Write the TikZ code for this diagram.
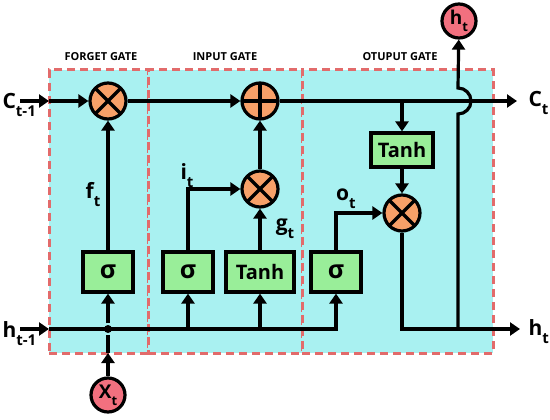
\documentclass[tikz,border=0pt]{standalone}
\usepackage{fontspec}
\setmainfont{Open Sans}
\usetikzlibrary{arrows.meta, positioning, calc}
\definecolor{cellcyan}{HTML}{A9F1F1}
\definecolor{gatered}{HTML}{E26B6B}
\definecolor{oporange}{HTML}{F7A068}
\definecolor{actgreen}{HTML}{99EE99}
\definecolor{iopink}{HTML}{F2707F}
\newcommand{\subs}[3]{#1\raisebox{-0.38em}{\fontsize{#3}{#3}\selectfont #2}}

\begin{document}
\begin{tikzpicture}[x=1pt, y=-1pt, line width=3.2pt, font=\bfseries,
  >={Triangle[length=10pt, width=13pt]},
  gate/.style={draw=gatered, fill=cellcyan, dash pattern=on 8pt off 5pt, line width=3pt},
  gatetitle/.style={font=\fontsize{11}{11}\selectfont\bfseries},
  opnode/.style={draw, circle, fill=oporange, minimum size=36pt, inner sep=0pt},
  mulnode/.style={opnode, path picture={\draw[line width=3.2pt] (path picture bounding box.north east) -- (path picture bounding box.south west) (path picture bounding box.north west) -- (path picture bounding box.south east);}},
  addnode/.style={opnode, path picture={\draw[line width=3.2pt] (path picture bounding box.north) -- (path picture bounding box.south) (path picture bounding box.west) -- (path picture bounding box.east);}},
  actbox/.style={draw, fill=actgreen, minimum width=50pt, minimum height=40pt, inner sep=0pt, font=\fontsize{20}{20}\selectfont\bfseries},
  ionode/.style={draw, circle, fill=iopink, minimum size=34pt, inner sep=0pt, font=\fontsize{19}{19}\selectfont\bfseries},
  lbl/.style={font=\fontsize{21}{21}\selectfont\bfseries, inner sep=0pt}]
  \useasboundingbox (0,0) rectangle (550,420);

  % gate regions
  \node[gate, minimum width=99pt, minimum height=283pt] (forget) at (98.5,211.5) {};
  \node[gate, minimum width=154pt, minimum height=283pt] (input) at (225,211.5) {};
  \node[gate, minimum width=191pt, minimum height=283pt] (output) at (397.5,211.5) {};
  \node[gatetitle] at (101,57) {FORGET GATE};
  \node[gatetitle] at (225,57) {INPUT GATE};
  \node[gatetitle] at (400,57) {OTUPUT GATE};

  % operations
  \node[mulnode] (mulf) at (108,101) {};
  \node[addnode] (add) at (260,101) {};
  \node[mulnode] (muli) at (260,189) {};
  \node[mulnode] (mulo) at (402,213) {};

  % activations
  \node[actbox, font=\fontsize{25}{25}\selectfont\bfseries] (sigf) at (108,272) {σ};
  \node[actbox, font=\fontsize{25}{25}\selectfont\bfseries] (sigi) at (188,272) {σ};
  \node[actbox, minimum width=68pt] (tanhi) at (260,272) {Tanh};
  \node[actbox, font=\fontsize{25}{25}\selectfont\bfseries] (sigo) at (336,272) {σ};
  \node[actbox, minimum width=62pt, minimum height=34pt] (tanho) at (402,150) {Tanh};

  % inputs and outputs
  \node[ionode] (xt) at (108,395) {\subs{X}{t}{13}};
  \node[ionode] (ht) at (459,21) {\subs{h}{t}{13}};
  \coordinate (cin) at (20,101);
  \coordinate (cedge) at (49,101);
  \coordinate (hin) at (20,329);
  \coordinate (hedge) at (49,329);
  \coordinate (xedge) at (108,353);
  \coordinate (cout) at (517,101);
  \coordinate (hout) at (520,329);
  \coordinate (hjoin) at (458,329);
  \node[circle, fill, inner sep=0pt, minimum size=8pt] (dot) at (108,329) {};

  \node[lbl, anchor=west] at (1,105) {\subs{C}{t-1}{15}};
  \node[lbl, anchor=west] at (1,334) {\subs{h}{t-1}{15}};
  \node[lbl, anchor=west] at (527,103) {\subs{C}{t}{15}};
  \node[lbl, anchor=west] at (527,332) {\subs{h}{t}{15}};
  \node[lbl] at (93,195) {\subs{f}{t}{15}};
  \node[lbl] at (187,176) {\subs{i}{t}{15}};
  \node[lbl] at (285,229) {\subs{g}{t}{15}};
  \node[lbl] at (346,199) {\subs{o}{t}{15}};

  % cell state
  \draw[->] (cin) -- (cedge);
  \draw[->] (cedge) -- (mulf);
  \draw[->] (mulf) -- (add);
  \draw[->] (add) -- (cout);
  \draw[->] (add -| tanho) -- (tanho);
  \draw[->] (tanho) -- (mulo);

  % hidden state
  \draw[->] (hin) -- (hedge);
  \draw[->] (hedge) -| (sigo);
  \draw[->] (xt) -- (xedge);
  \draw (xedge) -- (dot);
  \draw[->] (dot) -- (sigf);
  \draw[->] (hedge -| sigi) -- (sigi);
  \draw[->] (hedge -| tanhi) -- (tanhi);

  % gates
  \draw[->] (sigf) -- (mulf);
  \draw[->] (sigi) |- (muli);
  \draw[->] (tanhi) -- (muli);
  \draw[->] (muli) -- (add);
  \draw[->] (sigo.north) |- (mulo);
  \draw[->] (mulo) |- (hout);
  \draw[->] (hjoin) -- (458,114) arc[start angle=90, end angle=-90, radius=13] -- (ht);
\end{tikzpicture}
\end{document}
